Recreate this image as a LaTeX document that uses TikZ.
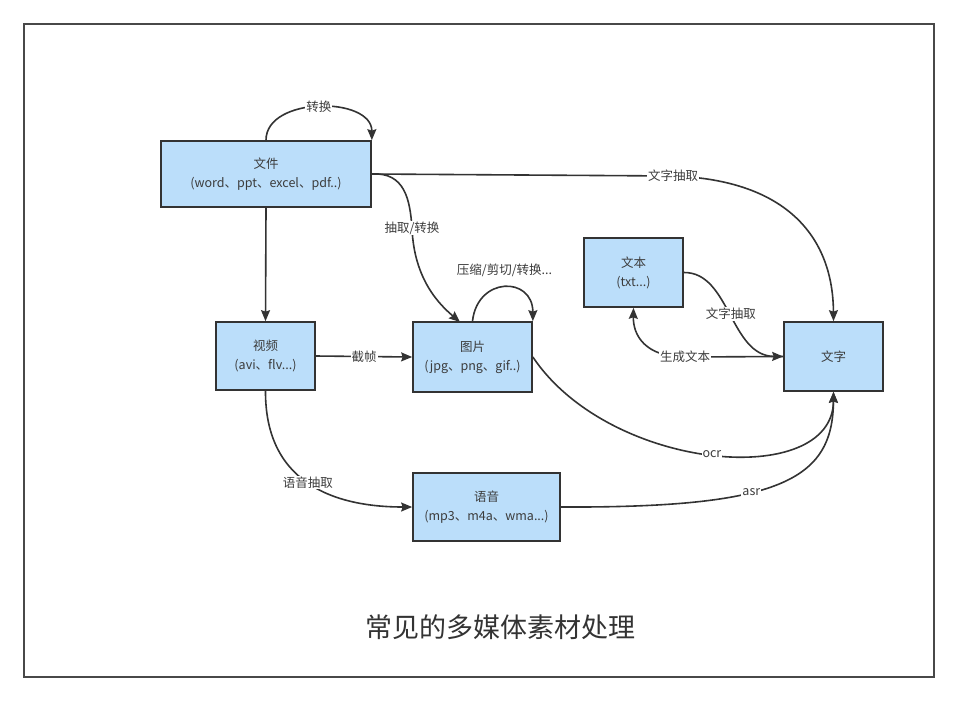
\documentclass[tikz,border=0pt]{standalone}
\usepackage{fontspec}
\setmainfont{Noto Sans CJK SC}
\usetikzlibrary{arrows.meta}
\definecolor{boxfill}{RGB}{187,222,250}
\definecolor{ink}{RGB}{51,51,51}
\definecolor{txt}{RGB}{60,60,60}
\definecolor{frame}{RGB}{72,72,72}
\begin{document}
\begin{tikzpicture}[x=1pt,y=-1pt,
  box/.style={draw=ink, line width=1.7pt, fill=boxfill, align=center, text=txt,
              font=\fontsize{12.5}{19}\selectfont, inner sep=0pt},
  conn/.style={draw=ink, line width=1.6pt, -{Stealth[length=11pt,width=9pt,inset=1.5pt]}},
  lbl/.style={fill=white, text=txt, font=\fontsize{12.5}{14}\selectfont, inner sep=1pt}
]
\path[use as bounding box] (0,0) rectangle (958,702);
\node[draw=frame, line width=1.8pt, minimum width=910pt, minimum height=653pt, inner sep=0pt] (frm) at (479,350.5) {};

\node[box, minimum width=210pt, minimum height=66pt] (wj) at (266,174) {文件\\(word、ppt、excel、pdf..)};
\node[box, minimum width=99pt, minimum height=68pt] (sp) at (265.5,356) {视频\\(avi、flv...)};
\node[box, minimum width=119pt, minimum height=70pt] (tp) at (472.5,357) {图片\\(jpg、png、gif..)};
\node[box, minimum width=99pt, minimum height=69pt] (wb) at (633.5,272.5) {文本\\(txt...)};
\node[box, minimum width=99pt, minimum height=69pt] (wz) at (833.5,356.5) {文字};
\node[box, minimum width=147pt, minimum height=68pt] (yy) at (486.5,507) {语音\\(mp3、m4a、wma...)};

\node[text=ink, font=\fontsize{27}{30}\selectfont] (title) at (500,627) {常见的多媒体素材处理};

% 文件 self loop
\draw[conn] (wj.north) .. controls +(0,-44) and +(0,-44) .. node[lbl]{转换} (wj.north east);
% 文件 -> 文字
\draw[conn] (wj.east) -- (673,176) node[lbl]{文字抽取}
   .. controls (790,180) and (833,240) .. (wz.north);
% 文件 -> 图片
\draw[conn] (wj.east) .. controls (405,172) and (410,200) .. (412,228) node[lbl]{抽取/转换}
   .. controls (414,280) and (440,305) .. (460,322);
% 文件 -> 视频
\draw[conn] (wj.south) -- (sp.north);
% 视频 -> 图片
\draw[conn] (sp.east) -- node[lbl]{截帧} (tp.west);
% 图片 self loop
\draw[conn] (tp.north) .. controls +(5,-45) and +(0,-45) .. node[lbl, above=9pt]{压缩/剪切/转换...} (tp.north east);
% 图片 -> 文字
\draw[conn] (tp.east) .. controls (610,472) and (833,490) .. node[lbl, pos=0.5]{ocr} (wz.south);
% 视频 -> 语音
\draw[conn] (sp.south) .. controls (265,480) and (330,507) .. node[lbl, pos=0.5]{语音抽取} (yy.west);
% 语音 -> 文字
\draw[conn] (yy.east) .. controls (780,508) and (833,480) .. node[lbl, pos=0.4]{asr} (wz.south);
% 文本 -> 文字
\draw[conn] (wb.east) .. controls (730,272) and (730,356) .. node[lbl]{文字抽取} (wz.west);
% 文字 -> 文本
\draw[conn] (wz.west) -- (685,357) node[lbl]{生成文本}
   .. controls (645,357) and (633,335) .. (wb.south);
\end{tikzpicture}
\end{document}
